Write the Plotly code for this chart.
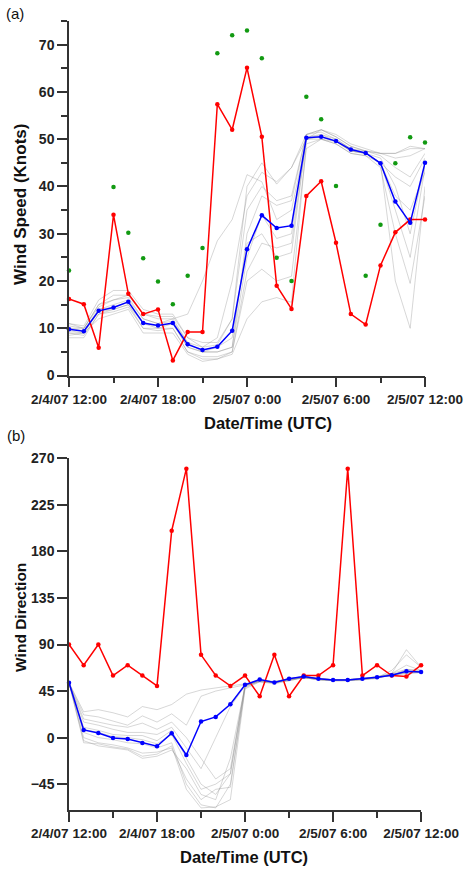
import pandas as pd
import plotly.graph_objects as go

# hourly times, 2/4/07 12:00 -> 2/5/07 12:00 UTC
times = pd.date_range("2007-02-04 12:00", periods=25, freq="h")

tick_times = ["2007-02-04 12:00", "2007-02-04 18:00", "2007-02-05 00:00",
              "2007-02-05 06:00", "2007-02-05 12:00"]
tick_labels = ["2/4/07 12:00", "2/4/07 18:00", "2/5/07 0:00",
               "2/5/07 6:00", "2/5/07 12:00"]

speed_ticks = [0, 10, 20, 30, 40, 50, 60, 70]
dir_ticks = [-45, 0, 45, 90, 135, 180, 225, 270]

# (a) wind speed, knots
speed_red = [16.2, 15.1, 5.9, 34.0, 17.3, 13.0, 14.0, 3.2, 9.2, 9.2, 57.4, 52.0, 65.1,
             50.5, 19.0, 14.1, 38.0, 41.1, 28.1, 13.0, 10.8, 23.3, 30.3, 33.0, 33.0]
speed_blue = [9.8, 9.4, 13.7, 14.4, 15.6, 11.1, 10.6, 11.1, 6.6, 5.4, 6.1, 9.5, 26.7,
              33.9, 31.2, 31.7, 50.3, 50.5, 49.6, 47.8, 47.1, 44.9, 36.8, 32.3, 45.0]
speed_green = [22.2, None, None, 39.9, 30.2, 24.8, 19.9, 15.1, 21.1, 27.0, 68.2, 72.0, 73.0,
               67.1, 24.9, 20.0, 59.0, 54.2, 40.1, None, 21.1, 31.9, 44.9, 50.4, 49.3]
speed_members = [
    [10.5, 10, 15, 16, 17, 13, 12, 12, 7, 5, 5, 6, 30, 38, 36, 37, 51, 51.5, 50, 48, 47.5, 47, 47, 48, 48],
    [9, 8.5, 13, 14, 15, 10, 10, 10, 5, 4, 4, 5, 22, 28, 27, 28, 50, 50, 49.5, 47.5, 47, 45, 42, 40, 46],
    [11, 10.5, 16, 18, 18, 14, 13, 13, 8, 6, 6.5, 12, 40, 45, 40.5, 44, 50, 52, 51, 49, 48, 47, 46, 46.5, 48],
    [8.5, 9, 12, 13, 14, 9, 9, 9, 4.5, 3, 3.5, 5, 20, 22.5, 20, 21, 48, 50, 49, 47, 46.5, 44, 30, 19.5, 38],
    [10, 9.5, 14, 15, 16, 12, 11, 12, 13, 20, 28.5, 33, 42.5, 41, 33, 35, 50, 51, 50, 48, 47, 46, 40, 30, 45],
    [9.5, 9, 14, 14.5, 15.5, 11, 10.5, 11, 6, 5, 5, 6, 25, 34, 29, 30, 50.5, 51, 49.5, 47.5, 47, 45, 35, 25, 44],
    [8, 8, 13, 13.5, 14.5, 10, 9.5, 10, 5, 3.5, 3.5, 4.5, 12, 15.6, 16.5, 15.5, 49, 50, 49, 47, 46.5, 45, 20, 10, 40],
    [10, 10, 15, 17, 17, 13, 12.5, 12.5, 8, 7, 7, 12, 35, 40, 37, 38, 51, 52, 50.5, 48.5, 47.5, 46.5, 44, 42, 47],
    [9, 9, 13.5, 14, 15, 11, 10, 11, 6, 5, 6, 8, 28, 30, 25, 26, 50, 50.5, 49.5, 47.5, 47, 45, 38, 35, 43],
    [11, 10, 14.5, 16, 16.5, 12, 11, 11.5, 7, 6, 8, 20, 38, 43, 41, 44, 51, 52, 50.5, 48.5, 47.5, 47, 47, 48.5, 48],
]

# (b) wind direction, degrees
dir_red = [90, 70, 90, 60, 70, 60, 50, 200, 260, 80, 60, 50, 60,
           40, 80, 40, 60, 60, 70, 260, 60, 70, 60, 59, 70]
dir_blue = [53, 7.4, 4.5, -0.3, -1.3, -5.2, -8.4, 4.2, -16.8, 15.5, 20, 32.3, 51,
            56.1, 53.2, 56.8, 59, 56.8, 55.8, 55.8, 56.8, 58.4, 60.3, 64.2, 63.5]
dir_members = [
    [53, 25, 27, 24, 20, 30, 27, 32, 42, 46, 48, 50, 52, 55, 54, 56, 58, 57, 56, 56, 57, 58, 60, 63, 64],
    [53, 22, 20, 16, 12, 21, 15, 23, 12, 40, 45, 48, 51, 54, 53, 55, 58, 56, 55, 56, 56, 58, 65, 80, 68],
    [53, 15, 12, 8, 5, 5, 3, 10, -10, -30, 0, 30, 50, 55, 53, 56, 58, 56, 55, 55, 56, 57, 62, 70, 65],
    [53, 10, 7, 3, 2, 2, -3, 7, -20, -45, -55, -35, 50, 56, 54, 57, 59, 57, 56, 56, 57, 59, 61, 64, 64],
    [53, 5, 0, -2, -5, -6, -10, -5, -45, -65, -68, -45, 48, 55, 53, 56, 59, 57, 56, 56, 57, 58, 60, 62, 63],
    [53, 0, -5, -7, -10, -15, -14, -10, -40, -60, -50, -48, 49, 54, 53, 56, 58, 56, 55, 55, 56, 58, 62, 66, 64],
    [53, -3, -8, -10, -12, -20, -18, -12, -30, -55, -60, -20, 50, 55, 54, 57, 59, 57, 56, 56, 57, 59, 62, 85, 68],
    [53, -5, -6, -9, -11, -18, -16, -8, -50, -68, -67, -60, 47, 54, 52, 55, 58, 56, 55, 55, 56, 58, 61, 63, 63],
    [53, 18, 15, 12, 10, 14, 8, 15, 0, -20, -40, -30, 50, 55, 54, 56, 58, 57, 56, 56, 57, 58, 60, 66, 65],
    [53, 8, 5, 1, 0, -2, -6, 3, -25, -50, -45, -35, 51, 56, 54, 57, 59, 57, 56, 56, 57, 58, 61, 62, 63],
]

AX = "#333333"
FONT = "Liberation Sans, Arial, sans-serif"
GRAY = "rgba(140,140,140,0.35)"


def x_axis(domain, anchor):
    return dict(type="date", domain=domain, anchor=anchor, automargin=False,
                range=[times[0], times[-1]],
                tickmode="array", tickvals=tick_times, ticktext=tick_labels,
                ticks="outside", ticklen=10, tickwidth=1.5, tickcolor=AX,
                minor=dict(dtick=3 * 3600 * 1000, tick0=tick_times[0],
                           ticks="outside", ticklen=6, tickwidth=1.5,
                           tickcolor=AX, showgrid=False),
                showline=True, linecolor=AX, linewidth=1.5,
                showgrid=False, zeroline=False, ticklabeloverflow="allow",
                tickfont=dict(family=FONT, size=13.5, weight="bold", color="#222"))


def y_axis(domain, anchor, rng, ticks, minor_step):
    ax = dict(domain=domain, anchor=anchor, range=rng, automargin=False,
              tickmode="array", tickvals=ticks,
              ticks="outside", ticklen=10, tickwidth=1.5, tickcolor=AX,
              showline=True, linecolor=AX, linewidth=1.5,
              showgrid=False, zeroline=False,
              tickfont=dict(family=FONT, size=14, weight="bold", color="#222"))
    if minor_step:
        ax["minor"] = dict(dtick=minor_step, tick0=0, ticks="outside", ticklen=6,
                           tickwidth=1.5, tickcolor=AX, showgrid=False)
    return ax


fig = go.Figure()

# panel (a)
for m in speed_members:
    fig.add_trace(go.Scatter(x=times, y=m, mode="lines", line=dict(color=GRAY, width=1),
                             xaxis="x", yaxis="y", hoverinfo="skip"))
fig.add_trace(go.Scatter(x=times, y=speed_green, mode="markers", cliponaxis=False,
                         marker=dict(color="#129a12", size=4.5), xaxis="x", yaxis="y"))
fig.add_trace(go.Scatter(x=times, y=speed_red, mode="lines+markers", cliponaxis=False,
                         line=dict(color="#ff0000", width=1.5),
                         marker=dict(color="#ff0000", size=4.5), xaxis="x", yaxis="y"))
fig.add_trace(go.Scatter(x=times, y=speed_blue, mode="lines+markers", cliponaxis=False,
                         line=dict(color="#0000ff", width=1.5),
                         marker=dict(color="#0000ff", size=4.5), xaxis="x", yaxis="y"))

# panel (b)
for m in dir_members:
    fig.add_trace(go.Scatter(x=times, y=m, mode="lines", line=dict(color=GRAY, width=1),
                             xaxis="x2", yaxis="y2", hoverinfo="skip"))
fig.add_trace(go.Scatter(x=times, y=dir_red, mode="lines+markers", cliponaxis=False,
                         line=dict(color="#ff0000", width=1.5),
                         marker=dict(color="#ff0000", size=4.5), xaxis="x2", yaxis="y2"))
fig.add_trace(go.Scatter(x=times, y=dir_blue, mode="lines+markers", cliponaxis=False,
                         line=dict(color="#0000ff", width=1.5),
                         marker=dict(color="#0000ff", size=4.5), xaxis="x2", yaxis="y2"))

# plot area: x 69..425 px, y 21..810 px
fig.update_layout(
    width=467, height=869,
    margin=dict(l=69, r=42, t=21, b=59),
    paper_bgcolor="white", plot_bgcolor="white",
    showlegend=False,
    xaxis=x_axis([0, 1], "y"),
    yaxis=y_axis([0.5506, 1], "x", [0, 75], speed_ticks, 5),
    xaxis2=x_axis([0, 0.989], "y2"),
    yaxis2=y_axis([0, 0.4457], "x2", [-70, 270], dir_ticks, None),
)


def note(text, x, y, size, bold=True, angle=0):
    fig.add_annotation(text=text, x=x, y=y, xref="paper", yref="paper",
                       xanchor="center", yanchor="middle", showarrow=False,
                       textangle=angle,
                       font=dict(family=FONT, size=size, color="#111",
                                 weight="bold" if bold else "normal"))


note("(a)", -0.152, 1.010, 15, bold=False)
note("(b)", -0.149, 0.475, 15, bold=False)
note("Wind Speed (Knots)", -0.138, 0.768, 17, angle=-90)
note("Wind Direction", -0.138, 0.2446, 15.5, angle=-90)
note("Date/Time (UTC)", 0.559, 0.4905, 16.5)
note("Date/Time (UTC)", 0.4916, -0.0596, 16.5)

# drop the default 8px page margin so the figure fills the window exactly
fig.write_html("out.html", config={"displayModeBar": False},
               post_script="document.body.style.margin = '0';")
